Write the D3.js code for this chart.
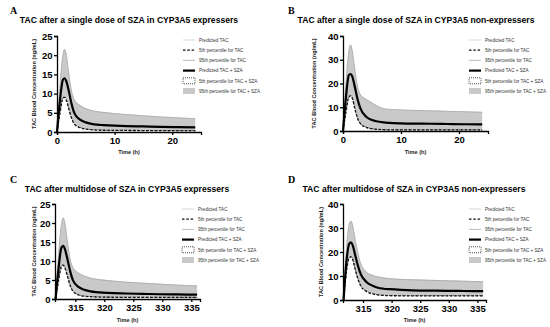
<!DOCTYPE html>
<html><head><meta charset="utf-8">
<script src="https://cdn.jsdelivr.net/npm/d3@7"></script>
<style>body{margin:0;background:#fff}svg{display:block}</style>
</head><body>
<svg id="c" width="550" height="327"></svg>
<script>
// ---------- DATA ----------
const panelLetters = ["A", "B", "C", "D"];
const panelTitles = [
  "TAC after a single dose of SZA in CYP3A5 expressers",
  "TAC after a single dose of SZA in CYP3A5 non-expressers",
  "TAC after multidose of SZA in CYP3A5 expressers",
  "TAC after multidose of SZA in CYP3A5 non-expressers"
];
const legendLabels = [
  "Predicted TAC", "5th percentile for TAC", "95th percentile for TAC",
  "Predicted TAC + SZA", "5th percentile for TAC + SZA", "95th percentile for TAC + SZA"
];
const yLabel = "TAC Blood Concentration (ng/mL)";
const xLabel = "Time (h)";
const yTicksA = [0, 5, 10, 15, 20, 25];
const yTicksB = [0, 10, 20, 30, 40];
const xTicksSingle = [0, 10, 20];
const xTicksMulti = [315, 320, 325, 330, 335];

// single dose time grid (h)
const timeSingle = [0, 0.5, 1, 1.3, 1.6, 2, 2.5, 3, 4, 5, 6, 7, 8, 10, 12, 15, 18, 21, 24];
// multidose time grid (h)
const timeMulti = [311.6, 312.1, 312.6, 312.9, 313.2, 313.6, 314.1, 314.6, 315.6, 316.6, 317.6, 318.6, 319.6, 321.6, 323.6, 326.6, 329.6, 332.6, 336];

// Panel A: CYP3A5 expressers, single dose
const A_predTAC     = [0, 7.8, 13.2, 13.8, 13.1, 10.8, 7.3, 4.9, 3.1, 2.4, 2.0, 1.85, 1.75, 1.6, 1.5, 1.4, 1.3, 1.25, 1.2];
const A_p5TAC       = [0, 4.8, 8.6, 9.0, 8.3, 6.3, 3.7, 2.1, 1.1, 0.75, 0.6, 0.5, 0.45, 0.42, 0.4, 0.38, 0.36, 0.35, 0.34];
const A_p95TAC      = [0, 11.8, 19.8, 21.5, 20.3, 15.8, 10.8, 8.4, 6.9, 6.1, 5.6, 5.3, 5.1, 4.8, 4.55, 4.2, 3.95, 3.7, 3.45];
const A_predTACSZA  = [0, 8.0, 13.5, 14.0, 13.3, 11.0, 7.5, 5.0, 3.2, 2.5, 2.1, 1.9, 1.8, 1.65, 1.55, 1.45, 1.35, 1.28, 1.22];
const A_p5TACSZA    = [0, 5.0, 8.8, 9.2, 8.5, 6.5, 3.8, 2.2, 1.2, 0.8, 0.62, 0.52, 0.48, 0.45, 0.42, 0.4, 0.38, 0.36, 0.35];
const A_p95TACSZA   = [0, 12.0, 20.0, 21.7, 20.5, 16.0, 11.0, 8.5, 7.0, 6.2, 5.7, 5.4, 5.2, 4.9, 4.6, 4.3, 4.0, 3.75, 3.5];

// Panel B: CYP3A5 non-expressers, single dose
const B_predTAC     = [0, 13.8, 23.2, 23.7, 22.7, 18.7, 13.2, 9.3, 5.9, 4.5, 3.9, 3.5, 3.3, 3.15, 3.05, 3.0, 2.9, 2.8, 2.75];
const B_p5TAC       = [0, 7.8, 14.2, 14.8, 13.8, 9.8, 5.4, 3.1, 1.5, 0.95, 0.68, 0.55, 0.5, 0.48, 0.46, 0.45, 0.44, 0.44, 0.43];
const B_p95TAC      = [0, 19.8, 33.6, 36.2, 33.7, 26.7, 18.8, 15.3, 13.3, 11.8, 10.4, 9.4, 9.1, 8.9, 8.7, 8.5, 8.3, 8.1, 7.9];
const B_predTACSZA  = [0, 14.0, 23.5, 24.0, 23.0, 19.0, 13.5, 9.5, 6.0, 4.6, 4.0, 3.6, 3.4, 3.2, 3.1, 3.05, 2.95, 2.85, 2.8];
const B_p5TACSZA    = [0, 8.0, 14.5, 15.0, 14.0, 10.0, 5.5, 3.2, 1.6, 1.0, 0.7, 0.56, 0.52, 0.5, 0.48, 0.46, 0.45, 0.45, 0.45];
const B_p95TACSZA   = [0, 20.0, 34.0, 36.5, 34.0, 27.0, 19.0, 15.5, 13.5, 12.0, 10.5, 9.5, 9.2, 9.0, 8.8, 8.6, 8.4, 8.2, 8.0];

// Panel C: CYP3A5 expressers, multidose
const C_predTAC     = [0, 7.7, 13.2, 13.8, 13.0, 10.6, 7.2, 4.8, 3.0, 2.3, 1.9, 1.75, 1.65, 1.5, 1.4, 1.3, 1.2, 1.15, 1.1];
const C_p5TAC       = [0, 4.7, 8.5, 8.9, 8.2, 6.2, 3.6, 2.0, 1.05, 0.72, 0.6, 0.52, 0.48, 0.45, 0.43, 0.42, 0.42, 0.41, 0.4];
const C_p95TAC      = [0, 11.6, 19.6, 21.3, 20.1, 15.6, 10.6, 8.2, 6.8, 6.0, 5.5, 5.2, 5.0, 4.7, 4.45, 4.15, 3.9, 3.65, 3.45];
const C_predTACSZA  = [0, 7.9, 13.5, 14.0, 13.2, 10.8, 7.4, 4.9, 3.1, 2.4, 2.0, 1.8, 1.7, 1.55, 1.45, 1.35, 1.25, 1.2, 1.15];
const C_p5TACSZA    = [0, 4.9, 8.7, 9.1, 8.4, 6.4, 3.7, 2.1, 1.1, 0.75, 0.62, 0.55, 0.5, 0.47, 0.45, 0.44, 0.43, 0.42, 0.42];
const C_p95TACSZA   = [0, 11.8, 19.8, 21.5, 20.3, 15.8, 10.8, 8.4, 6.9, 6.1, 5.6, 5.3, 5.1, 4.8, 4.55, 4.25, 4.0, 3.75, 3.55];

// Panel D: CYP3A5 non-expressers, multidose
const D_predTAC     = [0, 15.8, 23.3, 23.8, 22.6, 18.8, 14.2, 10.6, 7.4, 5.9, 5.0, 4.6, 4.4, 4.1, 3.95, 3.85, 3.75, 3.7, 3.65];
const D_p5TAC       = [0, 11.8, 17.6, 18.0, 16.8, 13.0, 8.8, 5.9, 3.6, 2.6, 2.1, 1.9, 1.8, 1.75, 1.72, 1.7, 1.7, 1.7, 1.7];
const D_p95TAC      = [0, 21.8, 31.6, 32.8, 31.0, 25.6, 19.6, 15.2, 11.6, 10.3, 9.6, 9.2, 8.9, 8.6, 8.4, 8.2, 8.0, 7.8, 7.6];
const D_predTACSZA  = [0, 16.0, 23.5, 24.0, 22.8, 19.0, 14.4, 10.8, 7.5, 6.0, 5.1, 4.7, 4.5, 4.2, 4.0, 3.9, 3.8, 3.75, 3.7];
const D_p5TACSZA    = [0, 12.0, 17.8, 18.2, 17.0, 13.2, 9.0, 6.0, 3.7, 2.7, 2.2, 2.0, 1.9, 1.85, 1.8, 1.8, 1.8, 1.8, 1.8];
const D_p95TACSZA   = [0, 22.0, 32.0, 33.0, 31.2, 25.8, 19.8, 15.4, 11.8, 10.5, 9.8, 9.4, 9.1, 8.8, 8.6, 8.4, 8.2, 8.0, 7.8];

// ---------- LAYOUT ----------
const panels = [
  {time: timeSingle, xDom: [0, 25], xTicks: xTicksSingle, yDom: [0, 25], yTicks: yTicksA,
   px: [57, 201], py: [132, 36], letter: [10, 14], titleX: 129, titleY: 23,
   ylabX: 36, xlabY: 154, legX: 183, legY: 40,
   s: [A_predTAC, A_p5TAC, A_p95TAC, A_predTACSZA, A_p5TACSZA, A_p95TACSZA]},
  {time: timeSingle, xDom: [0, 25], xTicks: xTicksSingle, yDom: [0, 40], yTicks: yTicksB,
   px: [343, 488], py: [131, 36], letter: [288, 14], titleX: 416, titleY: 23,
   ylabX: 316, xlabY: 154, legX: 469, legY: 40,
   s: [B_predTAC, B_p5TAC, B_p95TAC, B_predTACSZA, B_p5TACSZA, B_p95TACSZA]},
  {time: timeMulti, xDom: [311.5, 336.5], xTicks: xTicksMulti, yDom: [0, 25], yTicks: yTicksA,
   px: [55, 200], py: [299, 204], letter: [10, 183], titleX: 127, titleY: 192,
   ylabX: 36, xlabY: 322, legX: 182, legY: 209,
   s: [C_predTAC, C_p5TAC, C_p95TAC, C_predTACSZA, C_p5TACSZA, C_p95TACSZA]},
  {time: timeMulti, xDom: [311.5, 336.5], xTicks: xTicksMulti, yDom: [0, 40], yTicks: yTicksB,
   px: [343, 486], py: [300, 204], letter: [288, 183], titleX: 414, titleY: 192,
   ylabX: 323, xlabY: 322, legX: 469, legY: 209,
   s: [D_predTAC, D_p5TAC, D_p95TAC, D_predTACSZA, D_p5TACSZA, D_p95TACSZA]}
];

const svg = d3.select("#c");
const SANS = "'Liberation Sans', Arial, sans-serif";

panels.forEach((p, i) => {
  const g = svg.append("g");
  const x = d3.scaleLinear().domain(p.xDom).range(p.px);
  const y = d3.scaleLinear().domain(p.yDom).range(p.py);
  const pts = k => p.time.map((t, j) => [t, p.s[k][j]]);
  const line = d3.line().x(d => x(d[0])).y(d => y(d[1])).curve(d3.curveMonotoneX);
  const area = d3.area().x(d => x(d[0])).y0(y(0)).y1(d => y(d[1])).curve(d3.curveMonotoneX);

  g.append("path").attr("d", area(pts(5))).attr("fill", "#c9c9c9");
  g.append("path").attr("d", area(pts(4))).attr("fill", "#fff");
  g.append("path").attr("d", line(pts(4))).attr("fill", "none")
    .attr("stroke", "#222").attr("stroke-width", 0.9).attr("stroke-dasharray", "1,1.2");
  g.append("path").attr("d", line(pts(2))).attr("fill", "none").attr("stroke", "#a8a8a8").attr("stroke-width", 0.8);
  g.append("path").attr("d", line(pts(0))).attr("fill", "none").attr("stroke", "#dcdcdc").attr("stroke-width", 1.2);
  g.append("path").attr("d", line(pts(1))).attr("fill", "none").attr("stroke", "#111")
    .attr("stroke-width", 1.3).attr("stroke-dasharray", "2.5,1.8");
  g.append("path").attr("d", line(pts(3))).attr("fill", "none").attr("stroke", "#000").attr("stroke-width", 2.2);

  const yAxis = d3.axisLeft(y).tickValues(p.yTicks).tickSize(3).tickPadding(1.5);
  const xAxis = d3.axisBottom(x).tickValues(p.xTicks).tickSize(3).tickPadding(2);
  const ya = g.append("g").attr("transform", `translate(${p.px[0]},0)`).call(yAxis);
  const xa = g.append("g").attr("transform", `translate(0,${p.py[0]})`).call(xAxis);
  [ya, xa].forEach(a => {
    a.select(".domain").attr("stroke", "#000").attr("stroke-width", 1.3);
    a.selectAll(".tick line").attr("stroke", "#000").attr("stroke-width", 1.3);
    a.selectAll(".tick text").attr("font-family", SANS).attr("font-weight", "bold")
      .attr("font-size", 9.5).attr("fill", "#000");
  });

  g.append("text").attr("transform", `translate(${p.ylabX},${(p.py[0] + p.py[1]) / 2}) rotate(-90)`)
    .attr("text-anchor", "middle").attr("font-family", SANS).attr("font-weight", "bold")
    .attr("font-size", 5.6).attr("fill", "#222").text(yLabel);
  g.append("text").attr("x", (p.px[0] + p.px[1]) / 2).attr("y", p.xlabY)
    .attr("text-anchor", "middle").attr("font-family", SANS).attr("font-weight", "bold")
    .attr("font-size", 5.6).attr("fill", "#222").text(xLabel);

  g.append("text").attr("x", p.titleX).attr("y", p.titleY).attr("text-anchor", "middle")
    .attr("font-family", SANS).attr("font-weight", "bold").attr("font-size", 8.6).attr("fill", "#000")
    .text(panelTitles[i]);
  g.append("text").attr("x", p.letter[0]).attr("y", p.letter[1])
    .attr("font-family", "'Liberation Serif', 'Times New Roman', serif").attr("font-weight", "bold")
    .attr("font-size", 10).attr("fill", "#000").text(panelLetters[i]);

  const lg = g.append("g").attr("transform", `translate(${p.legX},${p.legY})`);
  const rowH = 10.2;
  legendLabels.forEach((lab, k) => {
    const r = lg.append("g").attr("transform", `translate(0,${k * rowH})`);
    if (k === 0) r.append("line").attr("x1", 0).attr("x2", 12).attr("stroke", "#dcdcdc").attr("stroke-width", 1.2);
    if (k === 1) r.append("line").attr("x1", 0).attr("x2", 12).attr("stroke", "#111").attr("stroke-width", 1.3).attr("stroke-dasharray", "2.5,1.8");
    if (k === 2) r.append("line").attr("x1", 0).attr("x2", 12).attr("stroke", "#a8a8a8").attr("stroke-width", 0.8);
    if (k === 3) r.append("line").attr("x1", 0).attr("x2", 12).attr("stroke", "#000").attr("stroke-width", 2.2);
    if (k === 4) r.append("rect").attr("x", 0).attr("y", -3).attr("width", 12).attr("height", 6)
      .attr("fill", "#fff").attr("stroke", "#222").attr("stroke-width", 0.8).attr("stroke-dasharray", "1,1");
    if (k === 5) r.append("rect").attr("x", 0).attr("y", -3).attr("width", 12).attr("height", 6).attr("fill", "#c9c9c9");
    r.append("text").attr("x", 16).attr("y", 1.7).attr("font-family", SANS).attr("font-size", 4.6)
      .attr("fill", "#333").text(lab);
  });
});
</script>
</body></html>
